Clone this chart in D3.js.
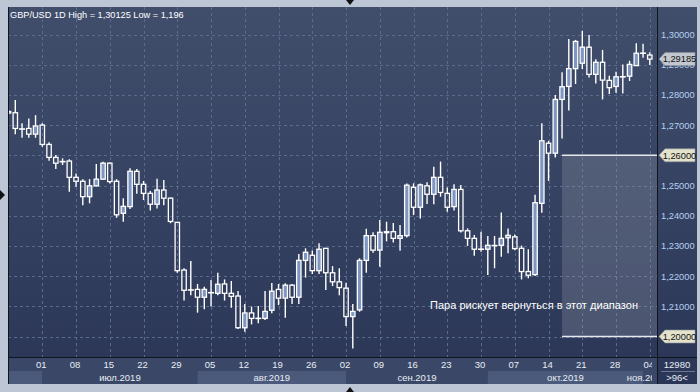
<!DOCTYPE html>
<meta charset="utf-8" />

<head>
  <style>
    body { margin: 0; background: #bcc6d5; }
    svg text { font-family: "Liberation Sans", Arial, sans-serif; }
  </style>
  <script src="https://d3js.org/d3.v7.min.js"></script>
</head>

<body>
  <svg width="700" height="392"></svg>
  <script>
    // trading days shown (Jun 24 .. Nov 4 2019)
    const dates = [
      "2019-06-24", "2019-06-25", "2019-06-26", "2019-06-27", "2019-06-28",
      "2019-07-01", "2019-07-02", "2019-07-03", "2019-07-04", "2019-07-05",
      "2019-07-08", "2019-07-09", "2019-07-10", "2019-07-11", "2019-07-12",
      "2019-07-15", "2019-07-16", "2019-07-17", "2019-07-18", "2019-07-19",
      "2019-07-22", "2019-07-23", "2019-07-24", "2019-07-25", "2019-07-26",
      "2019-07-29", "2019-07-30", "2019-07-31", "2019-08-01", "2019-08-02",
      "2019-08-05", "2019-08-06", "2019-08-07", "2019-08-08", "2019-08-09",
      "2019-08-12", "2019-08-13", "2019-08-14", "2019-08-15", "2019-08-16",
      "2019-08-19", "2019-08-20", "2019-08-21", "2019-08-22", "2019-08-23",
      "2019-08-26", "2019-08-27", "2019-08-28", "2019-08-29", "2019-08-30",
      "2019-09-02", "2019-09-03", "2019-09-04", "2019-09-05", "2019-09-06",
      "2019-09-09", "2019-09-10", "2019-09-11", "2019-09-12", "2019-09-13",
      "2019-09-16", "2019-09-17", "2019-09-18", "2019-09-19", "2019-09-20",
      "2019-09-23", "2019-09-24", "2019-09-25", "2019-09-26", "2019-09-27",
      "2019-09-30", "2019-10-01", "2019-10-02", "2019-10-03", "2019-10-04",
      "2019-10-07", "2019-10-08", "2019-10-09", "2019-10-10", "2019-10-11",
      "2019-10-14", "2019-10-15", "2019-10-16", "2019-10-17", "2019-10-18",
      "2019-10-21", "2019-10-22", "2019-10-23", "2019-10-24", "2019-10-25",
      "2019-10-28", "2019-10-29", "2019-10-30", "2019-10-31", "2019-11-01",
      "2019-11-04"
    ];
    const open = [
      1.2745, 1.2741, 1.2687, 1.2689, 1.2670, 1.2700, 1.2636, 1.2593, 1.2579, 1.2581,
      1.2527, 1.2514, 1.2463, 1.2499, 1.2521, 1.2574, 1.2514, 1.2408, 1.2430, 1.2547,
      1.2504, 1.2474, 1.2438, 1.2485, 1.2458, 1.2378, 1.2220, 1.2154, 1.2156, 1.2130,
      1.2145, 1.2143, 1.2174, 1.2143, 1.2134, 1.2029, 1.2078, 1.2060, 1.2060, 1.2087,
      1.2156, 1.2127, 1.2170, 1.2130, 1.2252, 1.2269, 1.2218, 1.2292, 1.2211, 1.2181,
      1.2160, 1.2066, 1.2088, 1.2252, 1.2334, 1.2286, 1.2345, 1.2347, 1.2325, 1.2334,
      1.2494, 1.2428, 1.2499, 1.2471, 1.2527, 1.2474, 1.2430, 1.2487, 1.2350, 1.2325,
      1.2289, 1.2289, 1.2301, 1.2302, 1.2327, 1.2330, 1.2292, 1.2215, 1.2205, 1.2441,
      1.2640, 1.2607, 1.2785, 1.2828, 1.2887, 1.2905, 1.2958, 1.2868, 1.2908, 1.2848,
      1.2828, 1.2860, 1.2862, 1.2897, 1.2938, 1.2932
    ];
    const high = [
      1.2750, 1.2783, 1.2706, 1.2722, 1.2733, 1.2706, 1.2643, 1.2601, 1.2590, 1.2587,
      1.2540, 1.2521, 1.2521, 1.2571, 1.2579, 1.2576, 1.2521, 1.2458, 1.2557, 1.2555,
      1.2515, 1.2482, 1.2522, 1.2518, 1.2460, 1.2378, 1.2226, 1.2250, 1.2174, 1.2165,
      1.2187, 1.2211, 1.2189, 1.2184, 1.2151, 1.2108, 1.2099, 1.2101, 1.2151, 1.2177,
      1.2174, 1.2176, 1.2174, 1.2273, 1.2292, 1.2285, 1.2309, 1.2292, 1.2233, 1.2226,
      1.2178, 1.2108, 1.2259, 1.2357, 1.2345, 1.2386, 1.2380, 1.2376, 1.2369, 1.2507,
      1.2507, 1.2507, 1.2511, 1.2562, 1.2579, 1.2493, 1.2504, 1.2502, 1.2358, 1.2336,
      1.2347, 1.2333, 1.2333, 1.2411, 1.2358, 1.2338, 1.2301, 1.2289, 1.2469, 1.2706,
      1.2648, 1.2800, 1.2875, 1.2985, 1.2982, 1.30125, 1.2998, 1.2918, 1.2949, 1.2863,
      1.2877, 1.2901, 1.2913, 1.2971, 1.2969, 1.2941
    ];
    const low = [
      1.2735, 1.2670, 1.2658, 1.2658, 1.2658, 1.2628, 1.2582, 1.2555, 1.2568, 1.2479,
      1.2496, 1.2435, 1.2441, 1.2497, 1.2518, 1.2507, 1.2393, 1.2380, 1.2422, 1.2473,
      1.2452, 1.2417, 1.2424, 1.2435, 1.2375, 1.2211, 1.2119, 1.2137, 1.2079, 1.2090,
      1.2099, 1.2137, 1.2119, 1.2095, 1.2025, 1.2016, 1.2040, 1.2044, 1.2055, 1.2077,
      1.2104, 1.2062, 1.2108, 1.2108, 1.2195, 1.2207, 1.2207, 1.2154, 1.2167, 1.2137,
      1.2035, 1.1960, 1.2082, 1.2211, 1.2277, 1.2231, 1.2315, 1.2311, 1.2284, 1.2328,
      1.2402, 1.2391, 1.2439, 1.2438, 1.2463, 1.2413, 1.2417, 1.2344, 1.2300, 1.2267,
      1.2281, 1.2204, 1.2226, 1.2264, 1.2276, 1.2286, 1.2189, 1.2193, 1.2200, 1.2410,
      1.2515, 1.2593, 1.2656, 1.2748, 1.2836, 1.2886, 1.2858, 1.2838, 1.2785, 1.2803,
      1.2807, 1.2805, 1.2846, 1.2896, 1.2923, 1.2899
    ];
    const close = [
      1.2740, 1.2689, 1.2687, 1.2670, 1.2697, 1.2636, 1.2593, 1.2574, 1.2579, 1.2527,
      1.2514, 1.2463, 1.2499, 1.2521, 1.2574, 1.2513, 1.2403, 1.2431, 1.2547, 1.2504,
      1.2474, 1.2438, 1.2485, 1.2458, 1.2381, 1.2218, 1.2153, 1.2154, 1.2130, 1.2156,
      1.2145, 1.2173, 1.2143, 1.2133, 1.2029, 1.2078, 1.2060, 1.2060, 1.2083, 1.2150,
      1.2127, 1.2170, 1.2130, 1.2252, 1.2279, 1.2218, 1.2289, 1.2211, 1.2181, 1.2162,
      1.2066, 1.2083, 1.2252, 1.2334, 1.2286, 1.2345, 1.2347, 1.2325, 1.2334, 1.2501,
      1.2428, 1.2502, 1.2471, 1.2527, 1.2477, 1.2428, 1.2487, 1.2350, 1.2325, 1.2289,
      1.2289, 1.2302, 1.2301, 1.2325, 1.2335, 1.2291, 1.2215, 1.2203, 1.2443, 1.2648,
      1.2607, 1.2785, 1.2827, 1.2887, 1.2977, 1.2958, 1.2868, 1.2908, 1.2849, 1.2824,
      1.2860, 1.2860, 1.2901, 1.2938, 1.2938, 1.29185
    ];
    const priceTicks = [1.20, 1.21, 1.22, 1.23, 1.24, 1.25, 1.26, 1.27, 1.28, 1.29, 1.30];
    const monthNames = ["", "июл.2019", "авг.2019", "сен.2019", "окт.2019", "ноя.2019"];
    const title = "GBP/USD 1D High = 1,30125 Low = 1,196";
    const zoneTop = 1.26, zoneBottom = 1.20, zoneStart = "2019-10-16";
    const zoneText = "Пара рискует вернуться в этот диапазон";
    const lastPrice = 1.29185;
    const volumeText = "12980", countText = ">96<";

    const svg = d3.select("svg");
    const pLeft = 8, pRight = 657, pTop = 7, pBottom = 357, axisRight = 697;

    const x = d3.scaleLinear().domain([0, dates.length - 1]).range([8.55, 649.8]);
    const y = d3.scaleLinear().domain([1.20, 1.30]).range([336.5, 34.5]);
    const fmt = v => d3.format(".5f")(v).replace(".", ",");
    const parse = d3.timeParse("%Y-%m-%d");
    const days = dates.map(parse);

    const defs = svg.append("defs");
    const grad = defs.append("linearGradient").attr("id", "bg")
      .attr("x1", 0).attr("y1", 0).attr("x2", 0).attr("y2", 1);
    grad.append("stop").attr("offset", "0%").attr("stop-color", "#404e6c");
    grad.append("stop").attr("offset", "100%").attr("stop-color", "#2b3656");
    defs.append("clipPath").attr("id", "plot")
      .append("rect").attr("x", pLeft + 1).attr("y", pTop).attr("width", pRight - pLeft - 1).attr("height", pBottom - pTop);
    defs.append("clipPath").attr("id", "axisx")
      .append("rect").attr("x", pLeft + 1).attr("y", pBottom).attr("width", 651 - pLeft).attr("height", 30);

    // frame
    svg.append("rect").attr("x", pLeft).attr("y", pTop).attr("width", axisRight - pLeft).attr("height", 384 - pTop)
      .attr("fill", "url(#bg)");
    svg.append("rect").attr("x", pLeft).attr("y", pBottom).attr("width", pRight - pLeft).attr("height", 27)
      .attr("fill", "#3a4766");

    const plot = svg.append("g").attr("clip-path", "url(#plot)");

    // grid (weekly, on Mondays that fall inside the plot)
    const mondays = d3.range(dates.length).filter(i => days[i].getDay() === 1 && x(i) > pLeft + 5);
    plot.selectAll(".hgrid").data(priceTicks).join("line")
      .attr("x1", pLeft).attr("x2", pRight)
      .attr("y1", d => Math.round(y(d)) + 0.5).attr("y2", d => Math.round(y(d)) + 0.5)
      .attr("stroke", "#5b6b8d").attr("stroke-dasharray", "3,3");
    plot.selectAll(".vgrid").data(mondays).join("line")
      .attr("x1", d => Math.round(x(d)) + 0.5).attr("x2", d => Math.round(x(d)) + 0.5)
      .attr("y1", pTop).attr("y2", pBottom)
      .attr("stroke", "#5b6b8d").attr("stroke-dasharray", "3,3");

    // zone
    const zx = x(dates.indexOf(zoneStart));
    plot.append("rect").attr("x", zx).attr("y", y(zoneTop)).attr("width", pRight - zx)
      .attr("height", y(zoneBottom) - y(zoneTop)).attr("fill", "#9197a8").attr("opacity", 0.3);
    plot.selectAll(".zline").data([zoneTop, zoneBottom]).join("line")
      .attr("x1", zx).attr("x2", pRight).attr("y1", d => y(d)).attr("y2", d => y(d))
      .attr("stroke", "#e6e8ee").attr("stroke-width", 1.6);
    plot.append("text").attr("x", 430).attr("y", 309).attr("fill", "#ffffff")
      .attr("font-size", 11).attr("textLength", 208).attr("lengthAdjust", "spacingAndGlyphs")
      .text(zoneText);

    // candles
    const candles = plot.selectAll(".c").data(d3.range(dates.length)).join("g");
    const bw = 4.4;
    candles.append("line")
      .attr("x1", i => x(i)).attr("x2", i => x(i))
      .attr("y1", i => y(high[i])).attr("y2", i => y(Math.max(open[i], close[i])))
      .attr("stroke", "#fff").attr("stroke-width", 1.4);
    candles.append("line")
      .attr("x1", i => x(i)).attr("x2", i => x(i))
      .attr("y1", i => y(Math.min(open[i], close[i]))).attr("y2", i => y(low[i]))
      .attr("stroke", "#fff").attr("stroke-width", 1.4);
    candles.filter(i => open[i] !== close[i]).append("rect")
      .attr("x", i => x(i) - bw / 2).attr("width", bw)
      .attr("y", i => y(Math.max(open[i], close[i])))
      .attr("height", i => Math.max(1, Math.abs(y(open[i]) - y(close[i]))))
      .attr("fill", i => close[i] > open[i] ? "#7d96c2" : "none")
      .attr("stroke", "#fff").attr("stroke-width", 1.3);
    candles.filter(i => open[i] === close[i]).append("line")
      .attr("x1", i => x(i) - 3).attr("x2", i => x(i) + 3)
      .attr("y1", i => y(open[i])).attr("y2", i => y(open[i]))
      .attr("stroke", "#fff").attr("stroke-width", 1.6);

    plot.append("text").attr("x", 10).attr("y", 18).attr("fill", "#ffffff")
      .attr("font-size", 9.2).text(title);

    // bottom axis: month bands and day labels
    const ax = svg.append("g").attr("clip-path", "url(#axisx)");
    const months = d3.groups(d3.range(dates.length), i => days[i].getMonth());
    months.forEach(([m, idx], k) => {
      const x0 = x(idx[0]);
      const x1 = k < months.length - 1 ? x(months[k + 1][1][0]) : x(idx[idx.length - 1]);
      ax.append("rect").attr("x", x0).attr("y", 371).attr("width", x1 - x0).attr("height", 13)
        .attr("fill", k % 2 === 0 ? "#4b5a7a" : "#3a4766");
      ax.append("text").attr("x", (x0 + x1) / 2).attr("y", 381).attr("text-anchor", "middle")
        .attr("fill", "#e8edf6").attr("font-size", 9.5).text(monthNames[k]);
    });
    ax.selectAll(".dl").data(mondays).join("text")
      .attr("x", i => x(i) - 1).attr("y", 368).attr("text-anchor", "middle")
      .attr("fill", "#e8edf6").attr("font-size", 9.5)
      .text(i => d3.timeFormat("%d")(days[i]));

    // separators
    svg.append("line").attr("x1", pLeft).attr("x2", axisRight).attr("y1", pBottom + 0.5).attr("y2", pBottom + 0.5)
      .attr("stroke", "#10141e");
    svg.append("line").attr("x1", pRight + 0.5).attr("x2", pRight + 0.5).attr("y1", pTop).attr("y2", 384)
      .attr("stroke", "#10141e");
    svg.append("line").attr("x1", pLeft + 0.5).attr("x2", pLeft + 0.5).attr("y1", pTop).attr("y2", 384)
      .attr("stroke", "#10141e");

    // price tags
    const tags = [
      { v: lastPrice, fill: "#c3c8d0" },
      { v: zoneTop, fill: "#e3e3cd" },
      { v: zoneBottom, fill: "#e3e3cd" }
    ];

    // right price axis (levels carrying a tag show the tag text instead)
    svg.append("g").attr("transform", `translate(${pRight},0)`)
      .call(d3.axisRight(y).tickValues(priceTicks.filter(v => !tags.some(t => t.v === v)))
        .tickSize(0).tickPadding(4).tickFormat(fmt))
      .call(g => g.select(".domain").remove())
      .call(g => g.selectAll("text").attr("fill", "#b7d0f2").attr("font-size", 9.3)
        .attr("font-family", "Liberation Sans, Arial, sans-serif"));

    tags.forEach(t => {
      const cy = y(t.v);
      svg.append("path")
        .attr("d", `M${pRight + 2},${cy} L${pRight + 8},${cy - 6.5} H${axisRight - 2} V${cy + 6.5} H${pRight + 8} Z`)
        .attr("fill", t.fill).attr("stroke", "#8a8f98").attr("stroke-width", 0.6);
      svg.append("text").attr("x", pRight + 22.5).attr("y", cy + 3.3).attr("text-anchor", "middle")
        .attr("fill", "#111").attr("font-size", 9.3).text(fmt(t.v));
    });

    svg.append("text").attr("x", 677).attr("y", 368).attr("text-anchor", "middle")
      .attr("fill", "#e8edf6").attr("font-size", 9.5).text(volumeText);
    svg.append("line").attr("x1", 661).attr("x2", 695).attr("y1", 371.5).attr("y2", 371.5).attr("stroke", "#6b7894");
    svg.append("text").attr("x", 677).attr("y", 381).attr("text-anchor", "middle")
      .attr("fill", "#e8edf6").attr("font-size", 9.5).text(countText);

    // scroll markers
    svg.append("path").attr("d", "M346,0 H354 L350,5 Z").attr("fill", "#111");
    svg.append("path").attr("d", "M346,392 H354 L350,387 Z").attr("fill", "#111");
    svg.append("path").attr("d", "M0,190 V200 L5,195 Z").attr("fill", "#111");
  </script>
</body>
